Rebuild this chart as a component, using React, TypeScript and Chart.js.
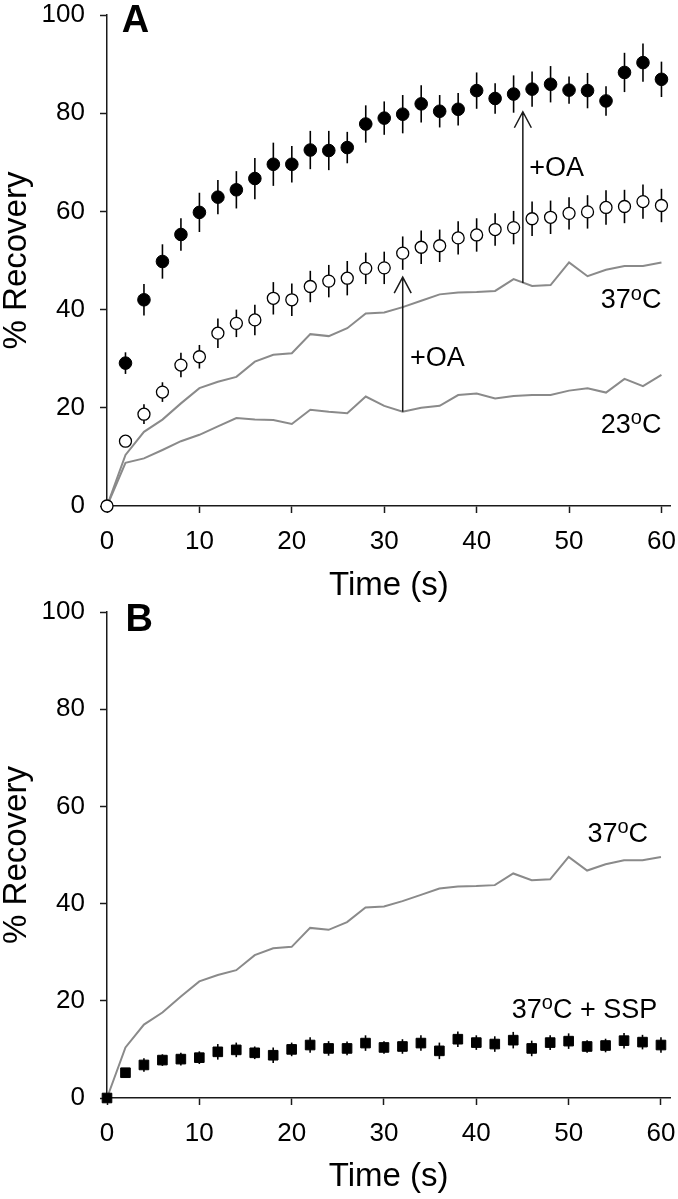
import React, { useEffect, useRef } from 'react';
import { Chart, registerables } from 'chart.js';

Chart.register(...registerables);

const FONT = '"Liberation Sans", Arial, Helvetica, sans-serif';
const AXIS = '#1a1a1a';
const GREY = '#8a8a8a';

// ---- data ----
const TIME = [0, 2, 4, 6, 8, 10, 12, 14, 16, 18, 20, 22, 24, 26, 28, 30, 32, 34, 36, 38, 40, 42, 44, 46, 48, 50, 52, 54, 56, 58, 60];

const OA_37 = [null, 29.1, 42.0, 49.8, 55.3, 59.8, 62.9, 64.4, 66.7, 69.6, 69.6, 72.5, 72.4, 73.0, 77.8, 79.0, 79.8, 81.9, 80.4, 80.8, 84.6, 83.0, 83.9, 84.9, 85.9, 84.7, 84.6, 82.5, 88.3, 90.3, 86.9];
const OA_37_ERR = [0, 2.2, 3.2, 3.5, 3.3, 4.0, 3.5, 3.8, 4.2, 4.4, 3.7, 3.9, 4.0, 3.2, 3.8, 3.4, 3.9, 3.8, 3.3, 3.3, 3.7, 3.1, 3.8, 3.6, 3.7, 2.8, 3.6, 3.0, 4.0, 3.9, 3.6];

const OA_23 = [0, 13.2, 18.7, 23.2, 28.7, 30.4, 35.2, 37.2, 37.9, 42.3, 42.0, 44.7, 45.8, 46.4, 48.4, 48.5, 51.5, 52.7, 53.0, 54.6, 55.2, 56.3, 56.7, 58.5, 58.8, 59.6, 59.9, 60.8, 61.0, 62.0, 61.2];
const OA_23_ERR = [0, 1.0, 2.0, 2.0, 2.5, 2.4, 3.0, 2.8, 3.1, 3.3, 3.3, 3.2, 3.3, 3.5, 3.2, 3.3, 3.4, 3.4, 3.3, 3.4, 3.4, 3.3, 3.4, 3.5, 3.4, 3.3, 3.4, 3.5, 3.4, 3.5, 3.4];

const CTRL_37 = [0, 10.4, 15.1, 17.6, 20.9, 24.0, 25.3, 26.3, 29.4, 30.8, 31.1, 35.0, 34.6, 36.2, 39.2, 39.4, 40.5, 41.8, 43.1, 43.5, 43.6, 43.8, 46.2, 44.8, 45.0, 49.6, 46.8, 48.1, 48.9, 48.9, 49.6];
const CTRL_23 = [0, 8.8, 9.7, 11.4, 13.2, 14.5, 16.2, 17.9, 17.6, 17.5, 16.7, 19.6, 19.2, 18.9, 22.3, 20.4, 19.2, 20.0, 20.4, 22.6, 22.9, 21.9, 22.4, 22.6, 22.6, 23.5, 24.0, 23.1, 25.9, 24.4, 26.7];

const SSP_37 = [0, 5.2, 6.8, 7.8, 8.0, 8.3, 9.5, 9.9, 9.3, 8.8, 10.0, 10.9, 10.2, 10.2, 11.3, 10.4, 10.6, 11.3, 9.7, 12.1, 11.4, 11.1, 11.9, 10.2, 11.4, 11.7, 10.6, 10.8, 11.8, 11.5, 10.9];
const SSP_37_ERR = [0, 0.8, 1.4, 1.2, 1.3, 1.3, 1.6, 1.5, 1.3, 1.6, 1.4, 1.6, 1.5, 1.4, 1.6, 1.3, 1.5, 1.6, 1.7, 1.6, 1.5, 1.6, 1.7, 1.6, 1.5, 1.6, 1.3, 1.4, 1.6, 1.5, 1.6];

const X_TICKS = [0, 10, 20, 30, 40, 50, 60];
const Y_TICKS = [0, 20, 40, 60, 80, 100];
const X_MIN = 0;
const X_MAX = 61;
const Y_MIN = 0;
const Y_MAX = 100;

const X_TITLE = 'Time (s)';
const Y_TITLE = '% Recovery';

// annotations (in data units)
const ARROWS_A = [
  { x: 32, from: 19.2, to: 46.6 },
  { x: 45, from: 45.4, to: 80.3 },
];
const LABELS_A = [
  { x: 32.8, y: 30.5, parts: ['+OA'], align: 'left' },
  { x: 45.7, y: 69.2, parts: ['+OA'], align: 'left' },
  { x: 60, y: 42.2, parts: ['37', 'o', 'C'], align: 'right' },
  { x: 60, y: 16.9, parts: ['23', 'o', 'C'], align: 'right' },
];
const LABELS_B = [
  { x: 58.6, y: 54.6, parts: ['37', 'o', 'C'], align: 'right' },
  { x: 59.6, y: 18.4, parts: ['37', 'o', 'C + SSP'], align: 'right' },
];
const PANEL_A_LETTER = { text: 'A', x: 1.6, y: 98.6 };
const PANEL_B_LETTER = { text: 'B', x: 2.0, y: 98.3 };

// ---- helpers ----
function pts(values: (number | null)[]) {
  const out: { x: number; y: number }[] = [];
  TIME.forEach((t, i) => {
    const v = values[i];
    if (v !== null && v !== undefined) out.push({ x: t, y: v });
  });
  return out;
}

type ErrSet = { values: (number | null)[]; errors: number[] };
type Label = { x: number; y: number; parts: string[]; align: string };
type Arrow = { x: number; from: number; to: number };

function drawParts(ctx: CanvasRenderingContext2D, parts: string[], x: number, yMid: number, align: string) {
  const size = 27;
  const supSize = 20;
  const main = `${size}px ${FONT}`;
  const sup = `${supSize}px ${FONT}`;
  const widths = parts.map((p, i) => {
    ctx.font = i === 1 ? sup : main;
    return ctx.measureText(p).width;
  });
  const total = widths.reduce((a, b) => a + b, 0);
  let cx = align === 'right' ? x - total : x;
  const base = yMid + size * 0.358;
  ctx.fillStyle = '#000';
  ctx.textAlign = 'left';
  ctx.textBaseline = 'alphabetic';
  parts.forEach((p, i) => {
    if (i === 1) {
      ctx.font = sup;
      ctx.fillText(p, cx, base - size * 0.716 + supSize * 0.52);
    } else {
      ctx.font = main;
      ctx.fillText(p, cx, base);
    }
    cx += widths[i];
  });
}

function makePlugin(errSets: ErrSet[], arrows: Arrow[], labels: Label[], letter: { text: string; x: number; y: number }) {
  return {
    id: 'panelDecor',
    beforeDatasetsDraw(chart: any) {
      const { ctx, scales } = chart;
      const xs = scales.x;
      const ys = scales.y;
      ctx.save();
      ctx.strokeStyle = '#000';
      ctx.lineWidth = 1.6;
      errSets.forEach((es) => {
        TIME.forEach((t, i) => {
          const v = es.values[i];
          const e = es.errors[i];
          if (v === null || v === undefined || !e) return;
          const px = xs.getPixelForValue(t);
          ctx.beginPath();
          ctx.moveTo(px, ys.getPixelForValue(v - e));
          ctx.lineTo(px, ys.getPixelForValue(v + e));
          ctx.stroke();
        });
      });
      ctx.restore();
    },
    afterDatasetsDraw(chart: any) {
      const { ctx, scales } = chart;
      const xs = scales.x;
      const ys = scales.y;
      ctx.save();
      ctx.strokeStyle = AXIS;
      ctx.lineWidth = 1.5;
      arrows.forEach((a) => {
        const px = xs.getPixelForValue(a.x);
        const y0 = ys.getPixelForValue(a.from);
        const y1 = ys.getPixelForValue(a.to);
        ctx.beginPath();
        ctx.moveTo(px, y0);
        ctx.lineTo(px, y1);
        ctx.moveTo(px - 8.5, y1 + 16);
        ctx.lineTo(px, y1);
        ctx.lineTo(px + 8.5, y1 + 16);
        ctx.stroke();
      });
      labels.forEach((l) => {
        drawParts(ctx, l.parts, xs.getPixelForValue(l.x), ys.getPixelForValue(l.y), l.align);
      });
      ctx.font = `bold 38px ${FONT}`;
      ctx.fillStyle = '#000';
      ctx.textAlign = 'left';
      ctx.textBaseline = 'middle';
      ctx.fillText(letter.text, xs.getPixelForValue(letter.x), ys.getPixelForValue(letter.y));
      ctx.restore();
    },
  };
}

function makeScales(xAxisH: number) {
  return {
    x: {
      type: 'linear',
      min: X_MIN,
      max: X_MAX,
      afterBuildTicks: (s: any) => {
        s.ticks = X_TICKS.map((v) => ({ value: v }));
      },
      afterFit: (s: any) => {
        s.height = xAxisH;
        s.paddingLeft = 0;
        s.paddingRight = 0;
      },
      grid: { display: true, drawOnChartArea: false, drawTicks: true, tickLength: 7, tickColor: AXIS, tickWidth: 1.5 },
      border: { display: true, color: AXIS, width: 1.5 },
      ticks: { color: '#000', font: { family: FONT, size: 26, lineHeight: 1 }, padding: 16, maxRotation: 0, autoSkip: false },
      title: { display: true, text: X_TITLE, color: '#000', font: { family: FONT, size: 33, lineHeight: 1 }, padding: 0 },
    },
    y: {
      type: 'linear',
      min: Y_MIN,
      max: Y_MAX,
      afterBuildTicks: (s: any) => {
        s.ticks = Y_TICKS.map((v) => ({ value: v }));
      },
      afterFit: (s: any) => {
        s.width = 107;
        s.paddingTop = 0;
        s.paddingBottom = 0;
      },
      grid: { display: true, drawOnChartArea: false, drawTicks: true, tickLength: 7, tickColor: AXIS, tickWidth: 1.5 },
      border: { display: true, color: AXIS, width: 1.5 },
      ticks: { color: '#000', font: { family: FONT, size: 26, lineHeight: 1 }, padding: 15, autoSkip: false },
      title: { display: true, text: Y_TITLE, color: '#000', font: { family: FONT, size: 33, lineHeight: 1 }, padding: 0 },
    },
  };
}

function greyLine(values: number[]) {
  return {
    data: pts(values),
    showLine: true,
    borderColor: GREY,
    borderWidth: 2,
    pointRadius: 0,
    tension: 0,
    clip: false,
  };
}

type PanelProps = {
  top: number;
  height: number;
  padTop: number;
  padBottom: number;
  xAxisH: number;
  datasets: any[];
  errSets: ErrSet[];
  arrows: Arrow[];
  labels: Label[];
  letter: { text: string; x: number; y: number };
};

function Panel(props: PanelProps) {
  const ref = useRef<HTMLCanvasElement>(null);
  useEffect(() => {
    if (!ref.current) return;
    const chart = new Chart(ref.current, {
      type: 'scatter',
      data: { datasets: props.datasets },
      options: {
        responsive: false,
        animation: false,
        devicePixelRatio: 1,
        layout: { padding: { top: props.padTop, bottom: props.padBottom, left: 0, right: 7 } },
        plugins: { legend: { display: false }, tooltip: { enabled: false }, title: { display: false } },
        scales: makeScales(props.xAxisH) as any,
      },
      plugins: [makePlugin(props.errSets, props.arrows, props.labels, props.letter)],
    } as any);
    return () => chart.destroy();
  }, []);
  return (
    <canvas
      ref={ref}
      width={678}
      height={props.height}
      style={{ position: 'absolute', left: 0, top: props.top, width: 678, height: props.height }}
    />
  );
}

export default function App() {
  const datasetsA = [
    {
      data: pts(OA_23),
      pointStyle: 'circle',
      pointRadius: 6,
      pointBackgroundColor: '#fff',
      pointBorderColor: '#000',
      pointBorderWidth: 1.3,
      clip: false,
    },
    {
      data: pts(OA_37),
      pointStyle: 'circle',
      pointRadius: 6.3,
      pointBackgroundColor: '#000',
      pointBorderColor: '#000',
      pointBorderWidth: 1,
      clip: false,
    },
    greyLine(CTRL_37),
    greyLine(CTRL_23),
  ];
  const datasetsB = [
    {
      data: pts(SSP_37),
      pointStyle: 'rect',
      pointRadius: 6.8,
      pointBackgroundColor: '#000',
      pointBorderColor: '#000',
      pointBorderWidth: 1,
      clip: false,
    },
    greyLine(CTRL_37),
  ];
  return (
    <div style={{ position: 'absolute', left: 0, top: 0, width: 678, height: 1199, background: '#fff' }}>
      <Panel
        top={0}
        height={620}
        padTop={15}
        padBottom={18}
        xAxisH={96}
        datasets={datasetsA}
        errSets={[
          { values: OA_37, errors: OA_37_ERR },
          { values: OA_23, errors: OA_23_ERR },
        ]}
        arrows={ARROWS_A}
        labels={LABELS_A}
        letter={PANEL_A_LETTER}
      />
      <Panel
        top={595}
        height={604}
        padTop={17}
        padBottom={6}
        xAxisH={95}
        datasets={datasetsB}
        errSets={[{ values: SSP_37, errors: SSP_37_ERR }]}
        arrows={[]}
        labels={LABELS_B}
        letter={PANEL_B_LETTER}
      />
    </div>
  );
}
